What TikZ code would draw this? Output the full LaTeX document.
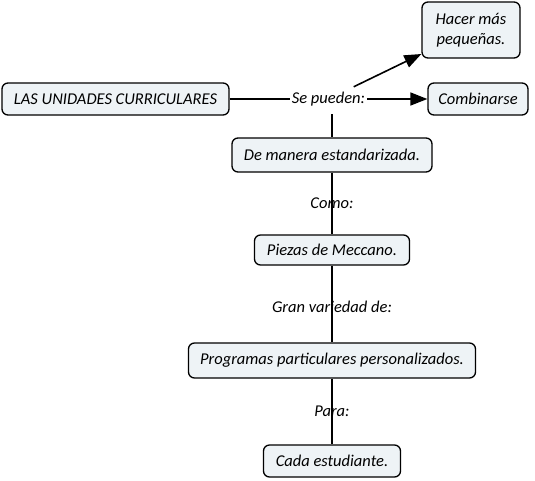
\documentclass[tikz,border=0pt]{standalone}
\usepackage{fontspec}
\setmainfont{Carlito}
\usetikzlibrary{arrows.meta}
\definecolor{boxfill}{HTML}{EEF3F6}
\tikzset{
  concept/.style={draw=black, line width=1.3pt, fill=boxfill, rounded corners=6pt,
    inner sep=0pt, align=center, font=\fontsize{16.5}{20}\selectfont\itshape},
  lbl/.style={inner xsep=2pt, inner ysep=0pt, minimum height=24pt, font=\fontsize{16.5}{19}\selectfont\itshape},
  conn/.style={line width=1.6pt},
  arr/.style={conn, -{Triangle[length=17pt,width=13pt]}}
}
\begin{document}
\begin{tikzpicture}[x=1pt,y=-1pt]
\useasboundingbox (0,0) rectangle (535,480);
\node[concept, minimum width=227pt, minimum height=32pt] (las) at (115.5,99) {LAS UNIDADES CURRICULARES};
\node[concept, minimum width=98pt, minimum height=56pt] (hacer) at (471,30) {Hacer más\\pequeñas.};
\node[concept, minimum width=100pt, minimum height=32pt] (comb) at (478,99) {Combinarse};
\node[concept, minimum width=200pt, minimum height=34pt] (de) at (332,155) {De manera estandarizada.};
\node[concept, minimum width=155pt, minimum height=30pt] (piezas) at (332,250) {Piezas de Meccano.};
\node[concept, minimum width=287pt, minimum height=35pt] (prog) at (332,360.5) {Programas particulares personalizados.};
\node[concept, minimum width=137pt, minimum height=32pt] (cada) at (332,461) {Cada estudiante.};
\node[lbl] (sep) at (328.5,99) {Se pueden:};
\draw[conn] (las.east) -- (sep.west);
\draw[arr] (sep.east) -- (comb.west);
\draw[arr] (sep) -- (hacer);
\draw[conn] ([yshift=-3pt]sep.south -| de.north) -- (de.north);
\draw[conn] (de.south) -- node[lbl] (como) {Como:} (piezas.north);
\draw[conn] (piezas.south) -- node[lbl, pos=0.54] (gran) {Gran variedad de:} (prog.north);
\draw[conn] (prog.south) -- node[lbl] (para) {Para:} (cada.north);
\end{tikzpicture}
\end{document}
